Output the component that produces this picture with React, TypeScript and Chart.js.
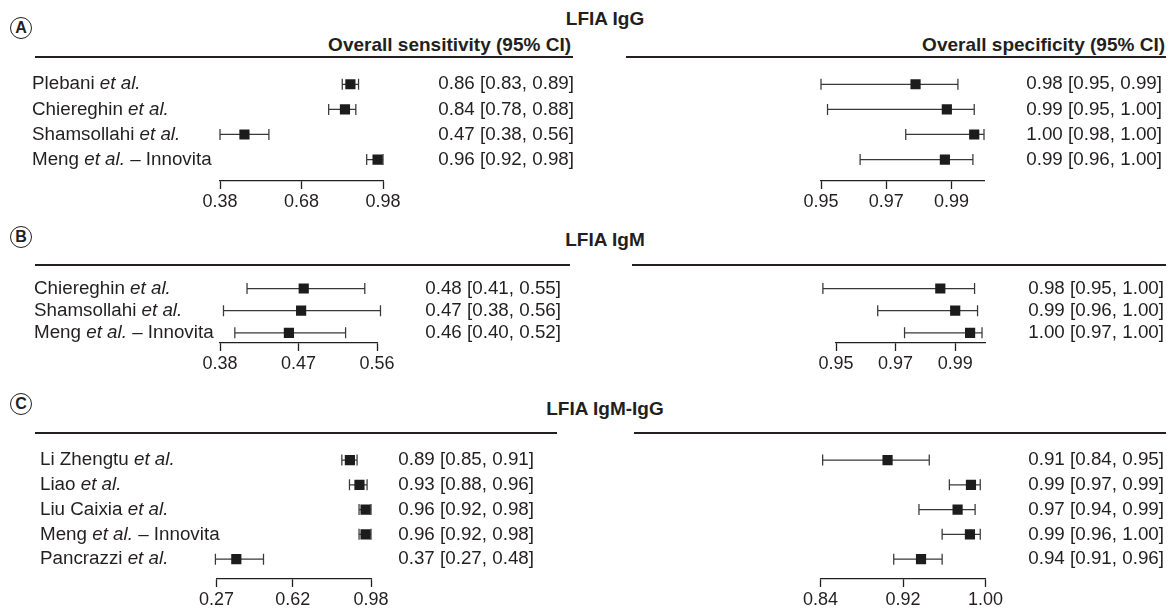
import React, { useEffect, useRef } from "react";
import { Chart, registerables } from "chart.js";
Chart.register(...registerables);

const FONT = '"Liberation Sans", Arial, Helvetica, sans-serif';
const INK = "#231f20";
const FS = 18.8; // row text
const TFS = 18; // tick labels

// ---------- Panel A : LFIA IgG ----------
const studiesA = ["Plebani *et al.*", "Chiereghin *et al.*", "Shamsollahi *et al.*", "Meng *et al.* – Innovita"];
const sensA = [0.86, 0.84, 0.47, 0.96];
const sensLoA = [0.83, 0.78, 0.38, 0.92];
const sensHiA = [0.89, 0.88, 0.56, 0.98];
const sensTextA = ["0.86 [0.83, 0.89]", "0.84 [0.78, 0.88]", "0.47 [0.38, 0.56]", "0.96 [0.92, 0.98]"];
const sensTicksA = [0.38, 0.68, 0.98];
const sensRangeA = [0.38, 0.98];
const specA = [0.979, 0.9886, 0.997, 0.988];
const specLoA = [0.95, 0.952, 0.976, 0.962];
const specHiA = [0.992, 0.997, 1.0, 0.9966];
const specTextA = ["0.98 [0.95, 0.99]", "0.99 [0.95, 1.00]", "1.00 [0.98, 1.00]", "0.99 [0.96, 1.00]"];
const specTicksA = [0.95, 0.97, 0.99];
const specRangeA = [0.95, 1.0];

// ---------- Panel B : LFIA IgM ----------
const studiesB = ["Chiereghin *et al.*", "Shamsollahi *et al.*", "Meng *et al.* – Innovita"];
const sensB = [0.476, 0.473, 0.459];
const sensLoB = [0.411, 0.384, 0.397];
const sensHiB = [0.546, 0.564, 0.524];
const sensTextB = ["0.48 [0.41, 0.55]", "0.47 [0.38, 0.56]", "0.46 [0.40, 0.52]"];
const sensTicksB = [0.38, 0.47, 0.56];
const sensRangeB = [0.38, 0.56];
const specB = [0.985, 0.99, 0.995];
const specLoB = [0.9456, 0.964, 0.973];
const specHiB = [0.9965, 0.9975, 0.999];
const specTextB = ["0.98 [0.95, 1.00]", "0.99 [0.96, 1.00]", "1.00 [0.97, 1.00]"];
const specTicksB = [0.95, 0.97, 0.99];
const specRangeB = [0.95, 1.0];

// ---------- Panel C : LFIA IgM-IgG ----------
const studiesC = ["Li Zhengtu *et al.*", "Liao *et al.*", "Liu Caixia *et al.*", "Meng *et al.* – Innovita", "Pancrazzi *et al.*"];
const sensC = [0.883, 0.927, 0.955, 0.955, 0.361];
const sensLoC = [0.846, 0.881, 0.925, 0.925, 0.265];
const sensHiC = [0.916, 0.962, 0.98, 0.98, 0.486];
const sensTextC = ["0.89 [0.85, 0.91]", "0.93 [0.88, 0.96]", "0.96 [0.92, 0.98]", "0.96 [0.92, 0.98]", "0.37 [0.27, 0.48]"];
const sensTicksC = [0.27, 0.62, 0.98];
const sensRangeC = [0.27, 0.98];
const specC = [0.905, 0.986, 0.973, 0.985, 0.9375];
const specLoC = [0.842, 0.965, 0.9355, 0.958, 0.911];
const specHiC = [0.9455, 0.995, 0.99, 0.995, 0.958];
const specTextC = ["0.91 [0.84, 0.95]", "0.99 [0.97, 0.99]", "0.97 [0.94, 0.99]", "0.99 [0.96, 1.00]", "0.94 [0.91, 0.96]"];
const specTicksC = [0.84, 0.92, 1.0];
const specRangeC = [0.84, 1.0];

type ForestProps = {
  left: number;
  top: number;
  width: number;
  axisStart: number;
  axisEnd: number;
  range: number[];
  ticks: number[];
  rowY0: number;
  rowStep: number;
  axisY: number;
  est: number[];
  lo: number[];
  hi: number[];
  texts: string[];
  textRight: number;
  names?: string[];
  nameX?: number;
};

function drawRich(ctx: CanvasRenderingContext2D, text: string, x: number, y: number) {
  const parts = text.split("*");
  let cx = x;
  parts.forEach((seg, k) => {
    if (!seg) return;
    ctx.font = `${k % 2 ? "italic " : ""}${FS}px ${FONT}`;
    ctx.fillText(seg, cx, y);
    cx += ctx.measureText(seg).width;
  });
}

const TICK_LEN = 8;
const TICK_PAD = 2;

function Forest(p: ForestProps) {
  const ref = useRef<HTMLCanvasElement>(null);
  const n = p.est.length;
  const axisBox = TICK_LEN + TFS * 1.2 + 2 * TICK_PAD;
  const height = Math.ceil(p.axisY - p.top + axisBox) + 1;

  useEffect(() => {
    const canvas = ref.current!;
    const padTop = p.rowY0 - 0.6 * p.rowStep - p.top;
    const padBottom = height - (p.axisY - p.top) - axisBox;
    const lastY = p.rowY0 + (n - 1) * p.rowStep;
    const yMax = n - 1 + (p.axisY - lastY) / p.rowStep;

    const extras = {
      id: "forestExtras",
      beforeDatasetsDraw(chart: any) {
        const { ctx, scales } = chart;
        const x = scales.x;
        const y = scales.y;
        ctx.save();
        ctx.strokeStyle = "#383838";
        ctx.lineWidth = 1.25;
        for (let i = 0; i < n; i++) {
          const py = y.getPixelForValue(i);
          const x1 = x.getPixelForValue(p.lo[i]);
          const x2 = x.getPixelForValue(p.hi[i]);
          ctx.beginPath();
          ctx.moveTo(x1, py);
          ctx.lineTo(x2, py);
          ctx.moveTo(x1, py - 5.5);
          ctx.lineTo(x1, py + 5.5);
          ctx.moveTo(x2, py - 5.5);
          ctx.lineTo(x2, py + 5.5);
          ctx.stroke();
        }
        ctx.restore();
      },
      afterDraw(chart: any) {
        const { ctx, scales } = chart;
        const y = scales.y;
        ctx.save();
        ctx.fillStyle = INK;
        ctx.textBaseline = "middle";
        for (let i = 0; i < n; i++) {
          const py = y.getPixelForValue(i);
          if (p.names && p.nameX !== undefined) {
            ctx.textAlign = "left";
            drawRich(ctx, p.names[i], p.nameX - p.left, py);
          }
          ctx.textAlign = "right";
          ctx.font = `${FS}px ${FONT}`;
          ctx.fillText(p.texts[i], p.textRight - p.left, py);
        }
        ctx.restore();
      },
    };

    const chart = new Chart(canvas, {
      type: "scatter",
      data: {
        datasets: [
          {
            data: p.est.map((v, i) => ({ x: v, y: i })),
            pointStyle: "rect",
            pointRadius: 7.2,
            pointHoverRadius: 7.2,
            backgroundColor: "#1c1c1c",
            borderColor: "#1c1c1c",
            borderWidth: 0,
          },
        ],
      },
      options: {
        responsive: false,
        animation: false,
        events: [],
        layout: {
          padding: {
            left: p.axisStart - p.left,
            right: p.left + p.width - p.axisEnd,
            top: padTop,
            bottom: padBottom,
          },
        },
        plugins: { legend: { display: false }, tooltip: { enabled: false }, title: { display: false } },
        scales: {
          x: {
            type: "linear",
            position: "bottom",
            bounds: "data",
            min: p.range[0],
            max: p.range[1],
            afterBuildTicks: (ax: any) => {
              ax.ticks = p.ticks.map((v) => ({ value: v }));
            },
            grid: {
              display: true,
              drawOnChartArea: false,
              drawTicks: true,
              tickLength: TICK_LEN,
              tickColor: INK,
              tickWidth: 1.3,
              color: INK,
            },
            border: { display: true, color: INK, width: 1.3 },
            ticks: {
              autoSkip: false,
              maxRotation: 0,
              minRotation: 0,
              padding: TICK_PAD,
              color: INK,
              font: { family: FONT, size: TFS },
              callback: (v: any) => Number(v).toFixed(2),
            },
          },
          y: {
            type: "linear",
            display: false,
            reverse: true,
            bounds: "data",
            min: -0.6,
            max: yMax,
          },
        },
      } as any,
      plugins: [extras],
    });
    return () => chart.destroy();
  }, []);

  return (
    <canvas
      ref={ref}
      width={p.width}
      height={height}
      style={{ position: "absolute", left: p.left, top: p.top, width: p.width, height }}
    />
  );
}

function Txt({ x, y, text, bold, size, align }: { x: number; y: number; text: string; bold?: boolean; size: number; align: "left" | "center" | "right" }) {
  const tx = align === "left" ? "0" : align === "center" ? "-50%" : "-100%";
  return (
    <div
      style={{
        position: "absolute",
        left: x,
        top: y,
        transform: `translate(${tx}, -50%)`,
        fontSize: size,
        lineHeight: 1,
        fontWeight: bold ? 700 : 400,
        whiteSpace: "nowrap",
        color: INK,
      }}
    >
      {text}
    </div>
  );
}

function Rule({ x1, x2, y }: { x1: number; x2: number; y: number }) {
  return <div style={{ position: "absolute", left: x1, top: y - 0.75, width: x2 - x1, height: 1.5, background: INK }} />;
}

function Circle({ x, y, letter }: { x: number; y: number; letter: string }) {
  return (
    <div
      style={{
        position: "absolute",
        left: x - 11,
        top: y - 11,
        width: 22,
        height: 22,
        boxSizing: "border-box",
        border: `1.6px solid ${INK}`,
        borderRadius: "50%",
        display: "flex",
        alignItems: "center",
        justifyContent: "center",
        fontSize: 16,
        fontWeight: 700,
        color: INK,
        lineHeight: 1,
      }}
    >
      {letter}
    </div>
  );
}

export default function App() {
  return (
    <div
      style={{
        position: "absolute",
        left: 0,
        top: 0,
        width: 1173,
        height: 615,
        background: "#ffffff",
        fontFamily: FONT,
        overflow: "hidden",
      }}
    >
      {/* Panel A */}
      <Circle x={21} y={28} letter="A" />
      <Txt x={605} y={18} text="LFIA IgG" bold size={19} align="center" />
      <Txt x={571} y={44} text="Overall sensitivity (95% CI)" bold size={19} align="right" />
      <Txt x={1165} y={44} text="Overall specificity (95% CI)" bold size={19} align="right" />
      <Rule x1={35} x2={573} y={57} />
      <Rule x1={626} x2={1166} y={57} />
      <Forest left={0} top={62} width={600} axisStart={220} axisEnd={383} range={sensRangeA} ticks={sensTicksA}
        rowY0={82} rowStep={25.7} axisY={181} est={sensA} lo={sensLoA} hi={sensHiA}
        texts={sensTextA} textRight={574} names={studiesA} nameX={32} />
      <Forest left={600} top={62} width={573} axisStart={821} axisEnd={984} range={specRangeA} ticks={specTicksA}
        rowY0={82} rowStep={25.7} axisY={181} est={specA} lo={specLoA} hi={specHiA}
        texts={specTextA} textRight={1162} />

      {/* Panel B */}
      <Circle x={21} y={237} letter="B" />
      <Txt x={605} y={239} text="LFIA IgM" bold size={19} align="center" />
      <Rule x1={35} x2={570} y={265} />
      <Rule x1={632} x2={1166} y={265} />
      <Forest left={0} top={268} width={600} axisStart={220} axisEnd={377} range={sensRangeB} ticks={sensTicksB}
        rowY0={284} rowStep={24} axisY={343} est={sensB} lo={sensLoB} hi={sensHiB}
        texts={sensTextB} textRight={561} names={studiesB} nameX={34} />
      <Forest left={600} top={268} width={573} axisStart={836} axisEnd={985} range={specRangeB} ticks={specTicksB}
        rowY0={284} rowStep={24} axisY={343} est={specB} lo={specLoB} hi={specHiB}
        texts={specTextB} textRight={1164} />

      {/* Panel C */}
      <Circle x={21} y={404} letter="C" />
      <Txt x={605} y={408} text="LFIA IgM-IgG" bold size={19} align="center" />
      <Rule x1={35} x2={557} y={433} />
      <Rule x1={634} x2={1166} y={433} />
      <Forest left={0} top={438} width={600} axisStart={216.5} axisEnd={371} range={sensRangeC} ticks={sensTicksC}
        rowY0={458} rowStep={25.2} axisY={579} est={sensC} lo={sensLoC} hi={sensHiC}
        texts={sensTextC} textRight={534} names={studiesC} nameX={40} />
      <Forest left={600} top={438} width={573} axisStart={820.6} axisEnd={985.4} range={specRangeC} ticks={specTicksC}
        rowY0={458} rowStep={25.2} axisY={579} est={specC} lo={specLoC} hi={specHiC}
        texts={specTextC} textRight={1164} />
    </div>
  );
}
